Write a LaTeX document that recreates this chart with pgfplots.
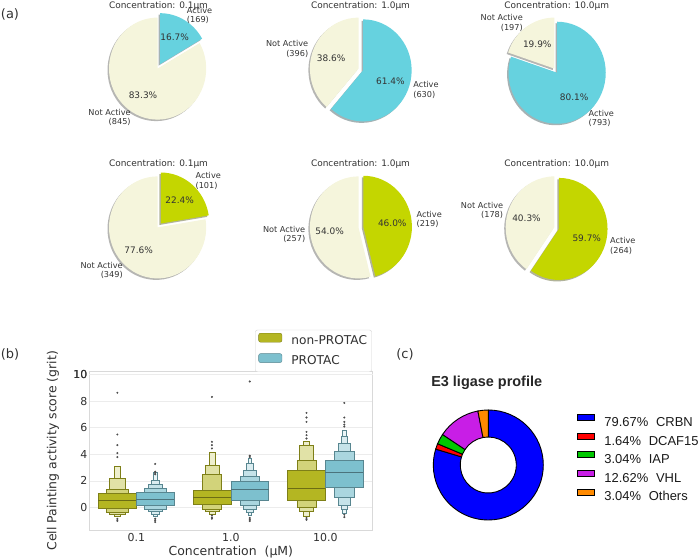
\documentclass[border=0pt]{standalone}
\usepackage{fontspec}
\setmainfont{DejaVu Sans}
\newfontfamily\arialf{Liberation Sans}
\usepackage{pgfplots}
\pgfplotsset{compat=1.18}

\definecolor{beigeNA}{HTML}{F5F5DC}
\definecolor{cyanAct}{HTML}{66D2DF}
\definecolor{limeAct}{HTML}{C4D600}
\definecolor{pietxt}{HTML}{333333}
\definecolor{txtb}{HTML}{303030}
\definecolor{olA}{HTML}{B4B622}
\colorlet{olB}{olA!60!white}
\colorlet{olC}{olA!40!white}
\colorlet{olD}{olA!22!white}
\colorlet{olE}{olA!12!white}
\colorlet{olEdge}{olA!70!black}
\colorlet{olMed}{olA!60!black}
\definecolor{cyA}{HTML}{7DC0CE}
\colorlet{cyB}{cyA!65!white}
\colorlet{cyC}{cyA!45!white}
\colorlet{cyD}{cyA!28!white}
\colorlet{cyE}{cyA!15!white}
\colorlet{cyEdge}{cyA!70!black}
\colorlet{cyMed}{cyA!60!black}
\definecolor{dBlue}{HTML}{0000FF}
\definecolor{dRed}{HTML}{FF0000}
\definecolor{dGreen}{HTML}{00C800}
\definecolor{dPurple}{HTML}{C81EE6}
\definecolor{dOrange}{HTML}{FF8A00}

\newcommand\rx{48.6}
\newcommand\ry{51}
\newcommand\lblfont{\fontsize{8.2}{9.4}\selectfont}
\newcommand\pctfont{\fontsize{9}{10}\selectfont}
\newcommand\ttlfont{\fontsize{9}{11}\selectfont}

% #1 cx, #2 cy, #3 active count, #4 not-active count, #5 colour, #6 title x, #7 title baseline y, #8 concentration
\newcommand\piechart[8]{%
 \pgfmathsetmacro\pA{100*(#3/(#3+#4))}%
 \pgfmathsetmacro\pN{100-\pA}%
 \pgfmathsetmacro\aEnd{90-3.6*\pA}%
 \pgfmathsetmacro\mA{90-1.8*\pA}%
 \pgfmathsetmacro\mN{(\aEnd-270)/2}%
 \pgfmathsetmacro\ex{0.1*\rx*cos(\mA)}%
 \pgfmathsetmacro\ey{0.1*\ry*sin(\mA)}%
 \pgfmathsetmacro\lrx{1.1*\rx}\pgfmathsetmacro\lry{1.1*\ry}%
 \pgfmathsetmacro\prx{0.6*\rx}\pgfmathsetmacro\pry{0.6*\ry}%
 \begin{axis}[at={(#1bp,#2bp)},anchor=center,x=1bp,y=1bp,xmin=-60,xmax=60,ymin=-60,ymax=60,hide axis,clip=false]
  \fill[#5!30!black,opacity=.4] ([shift={(-1.5bp,-1.5bp)}]axis cs:\ex,\ey) -- ++(90:\rx bp and \ry bp) arc[start angle=90,end angle=\aEnd,x radius=\rx bp,y radius=\ry bp] -- cycle;
  \fill[beigeNA!30!black,opacity=.4] ([shift={(-1.5bp,-1.5bp)}]axis cs:0,0) -- ++(\aEnd:\rx bp and \ry bp) arc[start angle=\aEnd,end angle=-270,x radius=\rx bp,y radius=\ry bp] -- cycle;
  \fill[beigeNA] (axis cs:0,0) -- ++(\aEnd:\rx bp and \ry bp) arc[start angle=\aEnd,end angle=-270,x radius=\rx bp,y radius=\ry bp] -- cycle;
  \fill[#5] (axis cs:\ex,\ey) -- ++(90:\rx bp and \ry bp) arc[start angle=90,end angle=\aEnd,x radius=\rx bp,y radius=\ry bp] -- cycle;
  \node[font=\pctfont,text=pietxt] at ([shift={(\mA:\prx bp and \pry bp)}]axis cs:\ex,\ey) {\pgfmathprintnumber[fixed,fixed zerofill,precision=1,assume math mode=true]{\pA}\%};
  \node[font=\pctfont,text=pietxt] at ([shift={(\mN:\prx bp and \pry bp)}]axis cs:0,0) {\pgfmathprintnumber[fixed,fixed zerofill,precision=1,assume math mode=true]{\pN}\%};
  \node[anchor=west,align=left,font=\lblfont,text=pietxt,inner sep=0pt] at ([shift={(\mA:\lrx bp and \lry bp)}]axis cs:\ex,\ey) {Active\\(#3)};
  \node[anchor=east,align=right,font=\lblfont,text=pietxt,inner sep=0pt] at ([shift={(\mN:\lrx bp and \lry bp)}]axis cs:0,0) {Not Active\\(#4)};
 \end{axis}
 \node[anchor=base,font=\ttlfont,text=pietxt,inner sep=0pt] at (#6bp,#7bp) {Concentration: #8µm};
}

% boxen level: centre, half width, low, high, fill, edge
\newcommand\lvl[6]{%
 \pgfmathsetmacro\xa{#1-#2}\pgfmathsetmacro\xb{#1+#2}%
 \edef\tmp{\noexpand\addplot[fill=#5,draw=#6,line width=0.5bp,forget plot] coordinates {(\xa,#3) (\xb,#3) (\xb,#4) (\xa,#4)} --cycle;}\tmp}
\newcommand\med[4]{%
 \pgfmathsetmacro\xa{#1-#2}\pgfmathsetmacro\xb{#1+#2}%
 \edef\tmp{\noexpand\addplot[draw=#4,line width=0.8bp,forget plot] coordinates {(\xa,#3) (\xb,#3)};}\tmp}

% donut segment: value, colour (running cumulative in \cum)
\newcommand\seg[2]{%
 \pgfmathsetmacro\sa{90-3.6*\cum}\pgfmathsetmacro\sb{90-3.6*(\cum+#1)}%
 \edef\tmp{\noexpand\filldraw[fill=#2,draw=black,line width=0.9bp] ([shift={(\sa:55bp)}]axis cs:0,0) arc[start angle=\sa,end angle=\sb,radius=55bp] -- ([shift={(\sb:28bp)}]axis cs:0,0) arc[start angle=\sb,end angle=\sa,radius=28bp] -- cycle;}\tmp
 \pgfmathsetmacro\cum{\cum+#1}}

\begin{document}
\begin{tikzpicture}
\path[use as bounding box] (0bp,0bp) rectangle (700bp,560bp);

% (a) pies
\piechart{157.6}{491.4}{169}{845}{cyanAct}{158.5}{551.7}{0.1}
\piechart{358.5}{491.4}{630}{396}{cyanAct}{360.5}{551.7}{1.0}
\piechart{554.3}{491.4}{793}{197}{cyanAct}{556.7}{551.7}{10.0}
\piechart{157.6}{332.6}{101}{349}{limeAct}{158.5}{393.3}{0.1}
\piechart{358.5}{332.6}{219}{257}{limeAct}{360.5}{393.3}{1.0}
\piechart{554.3}{332.6}{264}{178}{limeAct}{556.7}{393.3}{10.0}

\node[font=\fontsize{13}{15}\selectfont,text=txtb] at (10bp,546bp) {(a)};
\node[font=\fontsize{13}{15}\selectfont,text=txtb] at (10bp,206bp) {(b)};
\node[font=\fontsize{13}{15}\selectfont,text=txtb] at (405bp,206bp) {(c)};

% (b) boxen plot
\begin{axis}[at={(89bp,30bp)},anchor=south west,scale only axis,width=283.7bp,height=158.5bp,
  xmin=-0.5,xmax=2.5,ymin=-1.7,ymax=10.25,
  xtick={0,1,2},xticklabels={0.1,1.0,10.0},ytick={0,2,4,6,8,10},yticklabels={0,2,4,6,8,10},
  major tick length=0pt,ymajorgrids,grid style={gray!15,line width=0.8bp},
  axis line style={gray!30,line width=0.8bp},
  tick label style={font=\fontsize{11}{13}\selectfont,text=txtb},
  /pgf/number format/assume math mode=true,
  yticklabel style={inner sep=1.5bp},
  xticklabel style={inner sep=3.5bp},
  xlabel={Concentration\ \ (µM)},ylabel={Cell Painting activity score (grit)},
  label style={font=\fontsize{12.5}{14}\selectfont,text=txtb},
  x label style={at={(axis description cs:0.5,-0.139)},anchor=center},
  y label style={at={(axis description cs:-0.127,0.5)},anchor=center},
  legend style={at={(1,1)},anchor=south east,xshift=-1bp,yshift=-0.5bp,draw=gray!35,rounded corners=2bp,fill=white,
    font=\fontsize{12.2}{13}\selectfont,text=txtb,inner sep=3bp,row sep=5bp,
    nodes={inner sep=1.5bp,text height=8.5bp,text depth=2.5bp}},
  legend cell align=left,
  legend image code/.code={\draw[#1] (0bp,-0.8bp) rectangle (23.3bp,8.2bp); \path (31bp,0bp);},
  clip=false]
\addlegendimage{fill=olA,draw=olEdge}\addlegendentry{non-PROTAC}
\addlegendimage{fill=cyA,draw=cyEdge}\addlegendentry{PROTAC}
\draw[gray!15,line width=0.8bp] (axis cs:-0.5,10) -- (axis cs:2.5,10);
\node[anchor=east,inner sep=1.5bp,font=\fontsize{11}{13}\selectfont,text=txtb] at (axis cs:-0.5,10) {10};
% 0.1 non-PROTAC
\lvl{-0.2}{0.03}{-0.68}{3.1}{olD}{olEdge}
\lvl{-0.2}{0.086}{-0.53}{2.2}{olC}{olEdge}
\lvl{-0.2}{0.115}{-0.375}{1.4}{olB}{olEdge}
\lvl{-0.2}{0.2}{-0.05}{1.08}{olA}{olEdge}
\med{-0.2}{0.2}{0.55}{olMed}
% 0.1 PROTAC
\lvl{0.2}{0.018}{-0.68}{2.65}{cyE}{cyEdge}
\lvl{0.2}{0.038}{-0.48}{2.08}{cyD}{cyEdge}
\lvl{0.2}{0.074}{-0.3}{1.78}{cyC}{cyEdge}
\lvl{0.2}{0.115}{-0.13}{1.45}{cyB}{cyEdge}
\lvl{0.2}{0.2}{0.15}{1.13}{cyA}{cyEdge}
\med{0.2}{0.2}{0.63}{cyMed}
% 1.0 non-PROTAC
\lvl{0.8}{0.03}{-0.48}{4.15}{olD}{olEdge}
\lvl{0.8}{0.075}{-0.3}{3.2}{olC}{olEdge}
\lvl{0.8}{0.102}{-0.13}{2.53}{olB}{olEdge}
\lvl{0.8}{0.2}{0.25}{1.33}{olA}{olEdge}
\med{0.8}{0.2}{0.78}{olMed}
% 1.0 PROTAC
\lvl{1.2}{0.018}{-0.6}{3.7}{cyE}{cyEdge}
\lvl{1.2}{0.035}{-0.35}{3.33}{cyD}{cyEdge}
\lvl{1.2}{0.07}{-0.1}{2.83}{cyC}{cyEdge}
\lvl{1.2}{0.1}{0.2}{2.38}{cyB}{cyEdge}
\lvl{1.2}{0.2}{0.58}{2.0}{cyA}{cyEdge}
\med{1.2}{0.2}{1.33}{cyMed}
% 10.0 non-PROTAC
\lvl{1.8}{0.03}{-0.68}{5.0}{olD}{olEdge}
\lvl{1.8}{0.075}{-0.3}{4.7}{olC}{olEdge}
\lvl{1.8}{0.1}{0.0}{3.53}{olB}{olEdge}
\lvl{1.8}{0.2}{0.58}{2.83}{olA}{olEdge}
\med{1.8}{0.2}{1.45}{olMed}
% 10.0 PROTAC
\lvl{2.2}{0.018}{-0.43}{5.83}{cyE}{cyEdge}
\lvl{2.2}{0.032}{-0.13}{5.38}{cyD}{cyEdge}
\lvl{2.2}{0.061}{0.2}{4.83}{cyC}{cyEdge}
\lvl{2.2}{0.104}{0.78}{4.2}{cyB}{cyEdge}
\lvl{2.2}{0.2}{1.53}{3.53}{cyA}{cyEdge}
\med{2.2}{0.2}{2.63}{cyMed}
% outliers
\addplot[only marks,mark=*,mark size=0.8bp,color=black!70,forget plot] coordinates {
(-0.2,8.65)(-0.2,5.5)(-0.2,4.7)(-0.2,4.1)(-0.2,3.8)(-0.2,-0.85)(-0.2,-0.95)(-0.2,-1.02)
(0.2,3.28)(0.2,2.7)(0.2,2.6)(0.2,2.5)(0.2,-0.85)(0.2,-0.97)(0.2,-1.1)
(0.8,8.33)(0.8,4.95)(0.8,4.7)(0.8,4.45)(0.8,-0.6)(0.8,-0.75)(0.8,-0.85)
(1.2,9.5)(1.2,3.9)(1.2,3.8)(1.2,-0.8)(1.2,-0.92)(1.2,-1.02)
(1.8,7.13)(1.8,6.78)(1.8,6.45)(1.8,5.7)(1.8,5.45)(1.8,5.2)(1.8,-0.8)(1.8,-0.93)
(2.2,7.88)(2.2,6.78)(2.2,6.45)(2.2,6.25)(2.2,6.1)(2.2,-0.55)(2.2,-0.73)};
\end{axis}

% (c) donut
\node[font=\arialf\bfseries\fontsize{14.5}{16}\selectfont,text=black!85] at (486.7bp,177.5bp) {E3 ligase profile};
\begin{axis}[at={(488.3bp,95bp)},anchor=center,x=1bp,y=1bp,xmin=-60,xmax=60,ymin=-60,ymax=60,hide axis,clip=false,
  legend style={at={(axis cs:88.4,51)},anchor=north west,draw=none,fill=none,inner sep=0pt,
    font=\arialf\fontsize{13}{14}\selectfont,text=black!90,row sep=6.2bp,
    nodes={inner sep=0pt,text height=9.3bp,text depth=0bp}},
  legend cell align=left,
  legend image code/.code={\draw[#1] (0bp,1.3bp) rectangle (16.7bp,7.3bp); \path (26.6bp,0bp);}]
\addlegendimage{fill=dBlue,draw=black,line width=0.9bp}\addlegendentry{79.67\%\hspace{0.6em}CRBN}
\addlegendimage{fill=dRed,draw=black,line width=0.9bp}\addlegendentry{1.64\%\hspace{0.6em}DCAF15}
\addlegendimage{fill=dGreen,draw=black,line width=0.9bp}\addlegendentry{3.04\%\hspace{0.6em}IAP}
\addlegendimage{fill=dPurple,draw=black,line width=0.9bp}\addlegendentry{12.62\%\hspace{0.6em}VHL}
\addlegendimage{fill=dOrange,draw=black,line width=0.9bp}\addlegendentry{3.04\%\hspace{0.6em}Others}
\def\cum{0}
\seg{79.67}{dBlue}
\seg{1.64}{dRed}
\seg{3.04}{dGreen}
\seg{12.62}{dPurple}
\seg{3.04}{dOrange}
\end{axis}
\end{tikzpicture}
\end{document}
